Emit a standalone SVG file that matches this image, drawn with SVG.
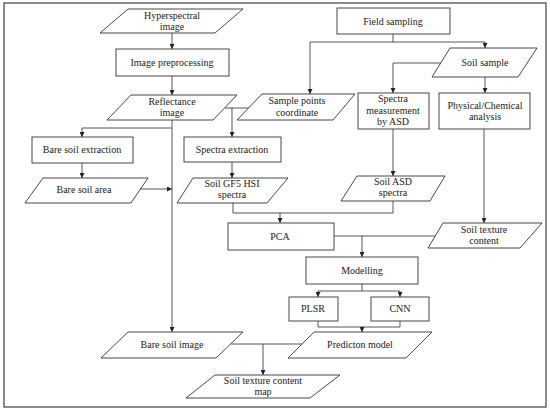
<svg xmlns="http://www.w3.org/2000/svg" width="550" height="412" viewBox="0 0 550 412">
<defs>
<marker id="ah" viewBox="0 0 10 10" refX="10" refY="5" markerWidth="5" markerHeight="5" orient="auto" markerUnits="userSpaceOnUse">
<path d="M0,0 L10,5 L0,10 Z" fill="#222"/>
</marker>
<style>
.n{fill:#fff;stroke:#333;stroke-width:0.9}
.t{font-family:"Liberation Serif","Times New Roman",serif;font-size:10px;fill:#222;text-anchor:middle}
.c{fill:none;stroke:#444;stroke-width:0.9}
.a{fill:none;stroke:#444;stroke-width:0.9;marker-end:url(#ah)}
</style>
</defs>
<rect x="0" y="0" width="550" height="412" fill="#fff"/>
<rect x="4" y="3" width="542" height="404" fill="none" stroke="#666" stroke-width="1.5"/>

<g id="connectors">
<path class="a" d="M172,33 V49"/>
<path class="a" d="M172,76 V95"/>
<path class="c" d="M225,108 H249"/>
<path class="a" d="M232,108 V137"/>
<path class="a" d="M172,120 V332"/>
<path class="a" d="M172,128 H82 V137"/>
<path class="a" d="M82,163 V178"/>
<path class="a" d="M140,189 H172"/>
<path class="a" d="M232,162 V178"/>
<path class="c" d="M233,203 V213 H393 V201"/>
<path class="a" d="M280,213 V223"/>
<path class="c" d="M393,34 V42"/>
<path class="a" d="M310,42 H485 V48"/>
<path class="a" d="M310,42 V94"/>
<path class="a" d="M441,63 H393 V93"/>
<path class="a" d="M485,77 V93"/>
<path class="a" d="M393,129 V176"/>
<path class="a" d="M484,129 V223"/>
<path class="c" d="M334,236 H435"/>
<path class="a" d="M362,236 V257"/>
<path class="c" d="M362,284 V291"/>
<path class="a" d="M318,291 H400 V297"/>
<path class="a" d="M318,291 V297"/>
<path class="c" d="M318,321 V327 H400 V321"/>
<path class="a" d="M362,327 V332"/>
<path class="c" d="M231,344 H302"/>
<path class="a" d="M263,344 V375"/>
</g>

<g id="hyperspectral">
<polygon class="n" points="128,9 243,9 215,33 100,33"/>
<text class="t" x="172" y="19">Hyperspectral</text>
<text class="t" x="172" y="30">image</text>
</g>
<g id="preprocessing">
<rect class="n" x="116" y="49" width="113" height="27"/>
<text class="t" x="172" y="66">Image preprocessing</text>
</g>
<g id="reflectance">
<polygon class="n" points="131,95 237,95 213,120 107,120"/>
<text class="t" x="172" y="105">Reflectance</text>
<text class="t" x="172" y="116">image</text>
</g>
<g id="bare-soil-extraction">
<rect class="n" x="32" y="137" width="101" height="26"/>
<text class="t" x="82" y="153">Bare soil extraction</text>
</g>
<g id="bare-soil-area">
<polygon class="n" points="43,178 148,178 131,203 25,203"/>
<text class="t" x="84" y="193">Bare soil area</text>
</g>
<g id="spectra-extraction">
<rect class="n" x="184" y="137" width="97" height="25"/>
<text class="t" x="232" y="153">Spectra extraction</text>
</g>
<g id="gf5-spectra">
<polygon class="n" points="193,178 288,178 267,203 177,203"/>
<text class="t" x="232" y="187">Soil GF5 HSI</text>
<text class="t" x="232" y="198">spectra</text>
</g>
<g id="field-sampling">
<rect class="n" x="337" y="8" width="113" height="26"/>
<text class="t" x="393" y="25">Field sampling</text>
</g>
<g id="sample-points">
<polygon class="n" points="262,94 355,94 333,120 237,120"/>
<text class="t" x="297" y="104">Sample points</text>
<text class="t" x="297" y="116">coordinate</text>
</g>
<g id="soil-sample">
<polygon class="n" points="450,48 537,48 518,77 432,77"/>
<text class="t" x="485" y="66">Soil sample</text>
</g>
<g id="spectra-measurement">
<rect class="n" x="358" y="93" width="71" height="36"/>
<text class="t" x="393" y="102">Spectra</text>
<text class="t" x="393" y="113.5">measurement</text>
<text class="t" x="393" y="125">by ASD</text>
</g>
<g id="physical-chemical">
<rect class="n" x="439" y="93" width="91" height="36"/>
<text class="t" x="485" y="109">Physical/Chemical</text>
<text class="t" x="485" y="120">analysis</text>
</g>
<g id="soil-asd-spectra">
<polygon class="n" points="357,176 445,176 430,201 341,201"/>
<text class="t" x="393" y="185">Soil ASD</text>
<text class="t" x="393" y="196">spectra</text>
</g>
<g id="pca">
<rect class="n" x="228" y="223" width="106" height="27"/>
<text class="t" x="280" y="240">PCA</text>
</g>
<g id="soil-texture-content">
<polygon class="n" points="443,223 542,223 520,248 428,248"/>
<text class="t" x="484" y="233">Soil texture</text>
<text class="t" x="484" y="244">content</text>
</g>
<g id="modelling">
<rect class="n" x="306" y="257" width="112" height="27"/>
<text class="t" x="362" y="274">Modelling</text>
</g>
<g id="plsr">
<rect class="n" x="289" y="297" width="49" height="24"/>
<text class="t" x="313" y="312">PLSR</text>
</g>
<g id="cnn">
<rect class="n" x="371" y="297" width="58" height="24"/>
<text class="t" x="400" y="312">CNN</text>
</g>
<g id="prediction-model">
<polygon class="n" points="314,332 432,332 406,358 288,358"/>
<text class="t" x="360" y="348">Predicton model</text>
</g>
<g id="bare-soil-image">
<polygon class="n" points="128,332 243,332 216,358 101,358"/>
<text class="t" x="172" y="348">Bare soil image</text>
</g>
<g id="soil-texture-map">
<polygon class="n" points="215,375 340,375 310,398 186,398"/>
<text class="t" x="263" y="384">Soil texture content</text>
<text class="t" x="263" y="395">map</text>
</g>
</svg>
